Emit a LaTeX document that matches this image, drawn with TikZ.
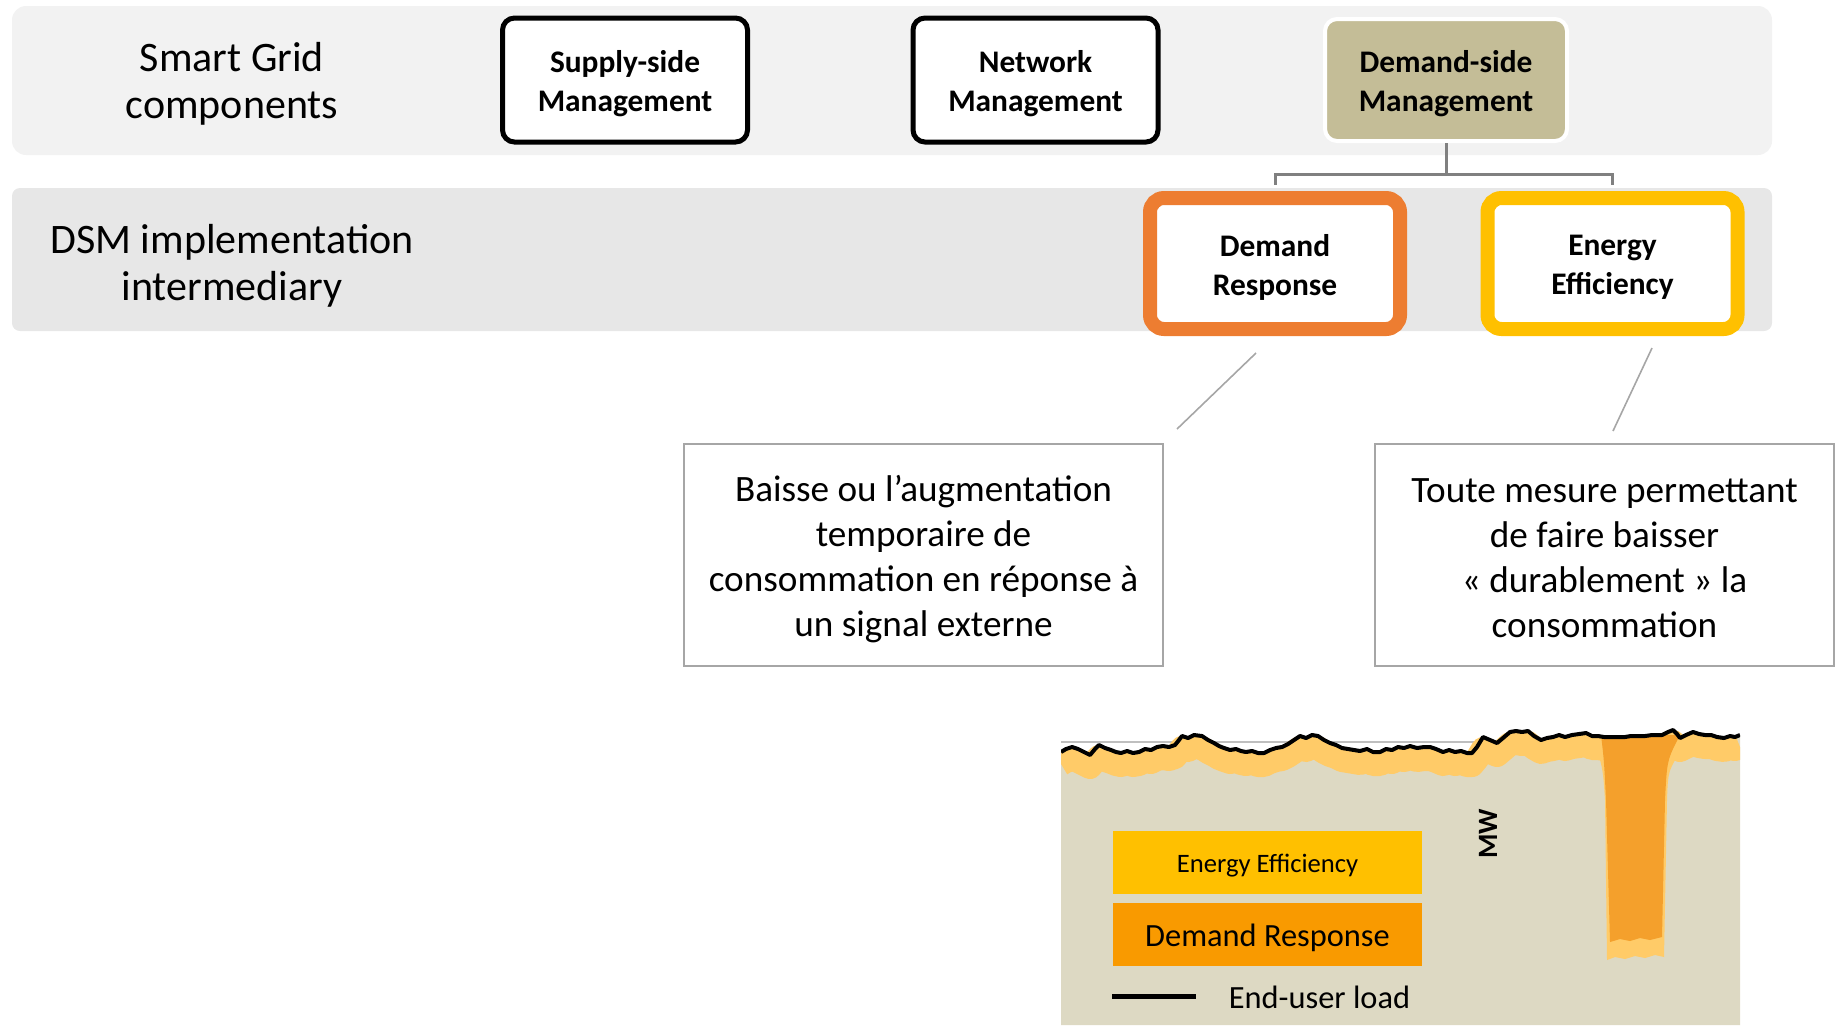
\documentclass[tikz,border=0pt]{standalone}
\usepackage{fontspec}
\setmainfont{Carlito}
\usetikzlibrary{positioning,calc}

\definecolor{bandTop}{HTML}{F2F2F2}
\definecolor{bandLow}{HTML}{E7E7E7}
\definecolor{dsmTan}{HTML}{C4BD97}
\definecolor{drOrange}{HTML}{ED7D31}
\definecolor{eeYellow}{HTML}{FFC000}
\definecolor{treeGray}{HTML}{808080}
\definecolor{boxGray}{HTML}{A6A6A6}
\definecolor{chartBeige}{HTML}{DDD9C3}
\definecolor{chartYellow}{HTML}{FFCB68}
\definecolor{chartOrange}{HTML}{F4A02C}
\definecolor{legendOrange}{HTML}{F99A00}

\newbox\dropbox

% end-user load curve
\def\loadcurve{(1061,752) -- (1066,749) -- (1072,747) -- (1078,749) -- (1084,752) -- (1090,755) -- (1095,749) -- (1099,745) -- (1105,748) -- (1111,750) -- (1116,752) -- (1121,753) -- (1127,751) -- (1133,753) -- (1139,752) -- (1145,749) -- (1151,750) -- (1157,747) -- (1163,746) -- (1169,747) -- (1175,745) -- (1179,740) -- (1182,736) -- (1188,738) -- (1194,735) -- (1202,736) -- (1208,740) -- (1214,743) -- (1219,746) -- (1224,748) -- (1230,750) -- (1236,749) -- (1241,751) -- (1246,752) -- (1252,751) -- (1258,753) -- (1264,753) -- (1270,750) -- (1276,748) -- (1282,747) -- (1288,744) -- (1294,740) -- (1300,736) -- (1306,738) -- (1312,735) -- (1318,736) -- (1324,740) -- (1330,743) -- (1336,745) -- (1342,748) -- (1348,749) -- (1354,750) -- (1360,751) -- (1367,749) -- (1373,752) -- (1380,752) -- (1386,749) -- (1392,750) -- (1398,747) -- (1404,748) -- (1410,746) -- (1417,748) -- (1424,747) -- (1430,747) -- (1436,749) -- (1443,752) -- (1449,750) -- (1455,752) -- (1461,751) -- (1467,753) -- (1472,753) -- (1477,747) -- (1483,737) -- (1490,740) -- (1497,743) -- (1503,738) -- (1510,732) -- (1516,731) -- (1522,732) -- (1528,731) -- (1534,736) -- (1541,740) -- (1547,738) -- (1553,737) -- (1559,735) -- (1565,737) -- (1572,735) -- (1579,734) -- (1586,733) -- (1592,736) -- (1598,736) -- (1604,737) -- (1611,737) -- (1618,737) -- (1625,737) -- (1631,736) -- (1638,736) -- (1645,736) -- (1652,735) -- (1658,735) -- (1662,735) -- (1668,732) -- (1673,730) -- (1677,734) -- (1680,738) -- (1686,735) -- (1693,732) -- (1699,734) -- (1705,735) -- (1711,735) -- (1717,737) -- (1724,738) -- (1730,736) -- (1735,737) -- (1740,735)}

\begin{document}
\begin{tikzpicture}[x=0.5pt, y=-0.5pt,
        textdrop/.style={execute at begin node={\setbox\dropbox\hbox\bgroup},
            execute at end node={\egroup\ht\dropbox=\dimexpr\ht\dropbox+#1\relax\box\dropbox}},
        rowlabel/.style={textdrop=3.6pt, align=center, font=\fontsize{21}{23.5}\selectfont},
        comp/.style={textdrop=3.6pt, draw, line width=2.5pt, rounded corners=6pt, fill=white,
            minimum width=122.5pt, minimum height=62pt, inner sep=0pt,
            align=center, font=\fontsize{15.7}{19.5}\selectfont\bfseries},
        lever/.style={comp, line width=7pt, rounded corners=7pt,
            minimum width=125pt, minimum height=65.5pt},
        descbox/.style={textdrop=3.6pt, draw=boxGray, line width=0.8pt, inner sep=0pt,
            minimum height=111pt, align=center, font=\fontsize{18.6}{22.5}\selectfont},
        tree/.style={draw=treeGray, line width=1.5pt},
        callout/.style={draw=boxGray, line width=0.8pt},
        legendbox/.style={textdrop=3.2pt, minimum width=154.5pt, minimum height=31.5pt, inner sep=0pt}]

    \useasboundingbox (0,0) rectangle (1846,1025);

    % bands
    \fill[bandTop, rounded corners=7pt] (12,6) rectangle (1772,155);
    \fill[bandLow, rounded corners=4pt] (12,188) rectangle (1772,331);

    \node[rowlabel] (labelSG) at (232,80) {Smart Grid\\components};
    \node[rowlabel] (labelDSM) at (232,262) {DSM implementation\\intermediary};

    % smart grid components
    \node[comp] (nodeSupply) at (625,80) {Supply-side\\Management};
    \node[comp] (nodeNetwork) at (1035.5,80) {Network\\Management};
    \node[comp, draw=white, line width=2pt, fill=dsmTan, minimum width=121pt,
          minimum height=61pt] (nodeDSM) at (1446,80) {Demand-side\\Management};

    % dsm intermediaries
    \node[lever, draw=drOrange] (nodeDR) at (1275,263.5) {Demand\\Response};
    \node[lever, draw=eeYellow] (nodeEE) at (1612.5,263.5) {Energy\\Efficiency};

    \coordinate (treeBar) at (1446,174);
    \draw[tree] (nodeDSM.south) -- (treeBar);
    \draw[tree, shorten >=3pt] (treeBar) -| (nodeDR.north);
    \draw[tree, shorten >=3pt] (treeBar) -| (nodeEE.north);

    % descriptions
    \node[descbox, minimum width=239.5pt] (nodeTextDR) at (923.5,555)
        {Baisse ou l’augmentation\\temporaire de\\consommation en réponse à\\un signal externe};
    \node[descbox, minimum width=229.5pt] (nodeTextEE) at (1604.5,555)
        {Toute mesure permettant\\de faire baisser\\« durablement » la\\consommation};

    \coordinate (calloutDRa) at (1256,353);
    \coordinate (calloutDRb) at (1177,429);
    \coordinate (calloutEEa) at (1652,348);
    \coordinate (calloutEEb) at (1613,431);
    \draw[callout] (calloutDRa) -- (calloutDRb);
    \draw[callout] (calloutEEa) -- (calloutEEb);

    % load chart
    \draw[gray!50, line width=0.6pt] (1061,742) -- (1740,742);
    \begin{scope}
        \clip (1061,700) rectangle (1740,1025);
        \fill[chartBeige] (1061,1025) -- \loadcurve -- (1740,1025) -- cycle;
        \draw[chartYellow, line width=12pt, line join=round, shift={(0,12)}] \loadcurve;
        \fill[chartYellow] (1596,745) .. controls (1603,770) .. (1605,800) -- (1607,960)
            -- (1615,957) -- (1625,959) -- (1635,956) -- (1645,958) -- (1655,955)
            -- (1664,957) -- (1667,800) .. controls (1668,770) .. (1685,745) -- cycle;
        \fill[chartOrange] (1601,735) .. controls (1604,760) .. (1606,800) -- (1610,942)
            -- (1620,939) -- (1630,941) -- (1640,938) -- (1650,940) -- (1662,937)
            -- (1665,800) .. controls (1667,760) .. (1680,735) -- cycle;
        \draw[black, line width=2pt, line join=round] \loadcurve;
    \end{scope}

    \node[legendbox, fill=eeYellow, font=\fontsize{13.3}{15}\selectfont] (legendEE)
        at (1267.5,862.5) {Energy Efficiency};
    \node[legendbox, fill=legendOrange, font=\fontsize{16.2}{19}\selectfont] (legendDR)
        at (1267.5,934.5) {Demand Response};
    \coordinate (legendLineA) at (1112,996);
    \coordinate (legendLineB) at (1196,996);
    \draw[black, line width=2.5pt] (legendLineA) -- (legendLineB);
    \node[textdrop=1pt, font=\fontsize{16.2}{19}\selectfont] (legendLoad) at (1319.5,996) {End-user load};
    \node[rotate=90, font=\fontsize{14}{16}\selectfont\bfseries] (labelMW) at (1488,834) {MW};
\end{tikzpicture}
\end{document}
